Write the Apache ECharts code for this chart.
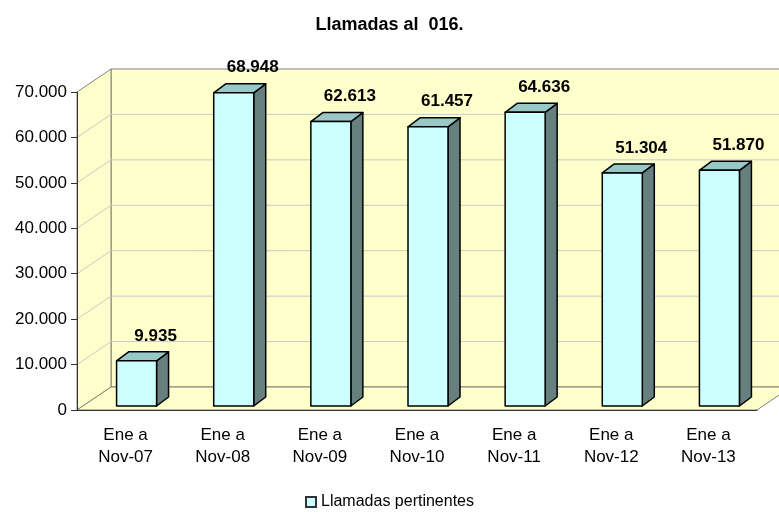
<!DOCTYPE html>
<html>
<head>
<meta charset="utf-8">
<script src="https://cdn.jsdelivr.net/npm/echarts@6/dist/echarts.min.js"></script>
<style>
  html, body { margin: 0; padding: 0; background: #fff; }
  #chart { width: 779px; height: 512px; }
</style>
</head>
<body>
<div id="chart"></div>
<script>
// Datos
const categorias = ['Ene a\nNov-07', 'Ene a\nNov-08', 'Ene a\nNov-09', 'Ene a\nNov-10', 'Ene a\nNov-11', 'Ene a\nNov-12', 'Ene a\nNov-13'];
const llamadas = [9935, 68948, 62613, 61457, 64636, 51304, 51870];
const yTicks = [0, 10000, 20000, 30000, 40000, 50000, 60000, 70000];

const FONT = "'Liberation Sans', Arial, sans-serif";

// profundidad de la caja 3D (pared del fondo) y de cada barra
const WALL_DX = 34, WALL_DY = -23;
const BAR_SHIFT_X = 11, BAR_SHIFT_Y = -4;
const BAR_HALF = 20;
const BAR_DX = 12, BAR_DY = -9;

function fmt(v) {
    return String(v).replace(/\B(?=(\d{3})+(?!\d))/g, '.');
}

const chart = echarts.init(document.getElementById('chart'), null, { renderer: 'canvas' });

// paredes + suelo + lineas de division
function renderWalls(params, api) {
    const cs = params.coordSys;
    const x0 = cs.x, x1 = cs.x + cs.width;
    const yTop = api.coord([0, yTicks[yTicks.length - 1]])[1];
    const yBot = api.coord([0, 0])[1];
    const children = [];
    // pared del fondo
    children.push({
        type: 'polygon',
        shape: { points: [[x0 + WALL_DX, yTop + WALL_DY], [x1 + WALL_DX, yTop + WALL_DY], [x1 + WALL_DX, yBot + WALL_DY], [x0 + WALL_DX, yBot + WALL_DY]] },
        style: { fill: '#FFFFCC', stroke: '#808080', lineWidth: 1 }
    });
    // pared izquierda
    children.push({
        type: 'polygon',
        shape: { points: [[x0, yTop], [x0 + WALL_DX, yTop + WALL_DY], [x0 + WALL_DX, yBot + WALL_DY], [x0, yBot]] },
        style: { fill: '#FFFFCC', stroke: '#808080', lineWidth: 1 }
    });
    // suelo
    children.push({
        type: 'polygon',
        shape: { points: [[x0, yBot], [x1, yBot], [x1 + WALL_DX, yBot + WALL_DY], [x0 + WALL_DX, yBot + WALL_DY]] },
        style: { fill: '#FFFFCC', stroke: '#808080', lineWidth: 1 }
    });
    yTicks.forEach(function (t) {
        if (t === 0 || t === yTicks[yTicks.length - 1]) return;
        const y = api.coord([0, t])[1];
        children.push({
            type: 'polyline',
            shape: { points: [[x0, y], [x0 + WALL_DX, y + WALL_DY], [x1 + WALL_DX, y + WALL_DY]] },
            style: { fill: null, stroke: '#C8C8C8', lineWidth: 1 }
        });
    });
    return { type: 'group', children: children };
}

// barras 3D
function renderBar(params, api) {
    const i = api.value(0);
    const v = api.value(1);
    const base = api.coord([i, 0]);
    const top = api.coord([i, v]);
    const cx = base[0] + BAR_SHIFT_X;
    const xl = cx - BAR_HALF, xr = cx + BAR_HALF;
    const yb = base[1] + BAR_SHIFT_Y;
    const yt = top[1] + BAR_SHIFT_Y;
    const stroke = { stroke: '#000', lineWidth: 1.5, lineJoin: 'round' };
    return {
        type: 'group',
        children: [
            {
                type: 'polygon',
                shape: { points: [[xr, yt], [xr + BAR_DX, yt + BAR_DY], [xr + BAR_DX, yb + BAR_DY], [xr, yb]] },
                style: Object.assign({ fill: '#668080' }, stroke)
            },
            {
                type: 'polygon',
                shape: { points: [[xl, yt], [xl + BAR_DX, yt + BAR_DY], [xr + BAR_DX, yt + BAR_DY], [xr, yt]] },
                style: Object.assign({ fill: '#99C8C8' }, stroke)
            },
            {
                type: 'rect',
                shape: { x: xl, y: yt, width: xr - xl, height: yb - yt },
                style: Object.assign({ fill: '#CCFFFF' }, stroke)
            },
            {
                type: 'text',
                x: cx + 19,
                y: yt - 25,
                style: {
                    text: fmt(v),
                    font: 'bold 17px ' + FONT,
                    fill: '#000',
                    align: 'center',
                    verticalAlign: 'middle'
                }
            }
        ]
    };
}

chart.setOption({
    animation: false,
    title: {
        text: 'Llamadas al  016.',
        left: 'center',
        top: 11,
        textStyle: { fontFamily: FONT, fontSize: 18, fontWeight: 'bold', color: '#000' }
    },
    legend: {
        data: ['Llamadas pertinentes'],
        top: 489,
        left: 'center',
        icon: 'rect',
        itemWidth: 10,
        itemHeight: 10,
        itemGap: 5,
        textStyle: { fontFamily: FONT, fontSize: 16, color: '#000' }
    },
    grid: { left: 77, right: 22, top: 92, bottom: 102 },
    xAxis: {
        type: 'category',
        data: categorias,
        z: 5,
        axisLine: { lineStyle: { color: '#333', width: 1 } },
        axisTick: { length: 6, lineStyle: { color: '#333' } },
        axisLabel: { fontFamily: FONT, fontSize: 17, color: '#000', lineHeight: 22, margin: 14, interval: 0 },
        splitLine: { show: false }
    },
    yAxis: {
        type: 'value',
        min: 0,
        max: 70000,
        interval: 10000,
        z: 5,
        axisLine: { show: true, lineStyle: { color: '#333', width: 1 } },
        axisTick: { show: true, length: 6, lineStyle: { color: '#333' } },
        axisLabel: { fontFamily: FONT, fontSize: 17, color: '#000', margin: 10, formatter: fmt },
        splitLine: { show: false }
    },
    series: [
        {
            type: 'custom',
            name: 'paredes',
            z: 1,
            silent: true,
            renderItem: renderWalls,
            data: [[0, 0]]
        },
        {
            type: 'custom',
            name: 'Llamadas pertinentes',
            z: 6,
            itemStyle: { color: '#CCFFFF', borderColor: '#333', borderWidth: 1 },
            renderItem: renderBar,
            encode: { x: 0, y: 1 },
            data: llamadas.map(function (v, i) { return [i, v]; })
        }
    ]
});
</script>
</body>
</html>
